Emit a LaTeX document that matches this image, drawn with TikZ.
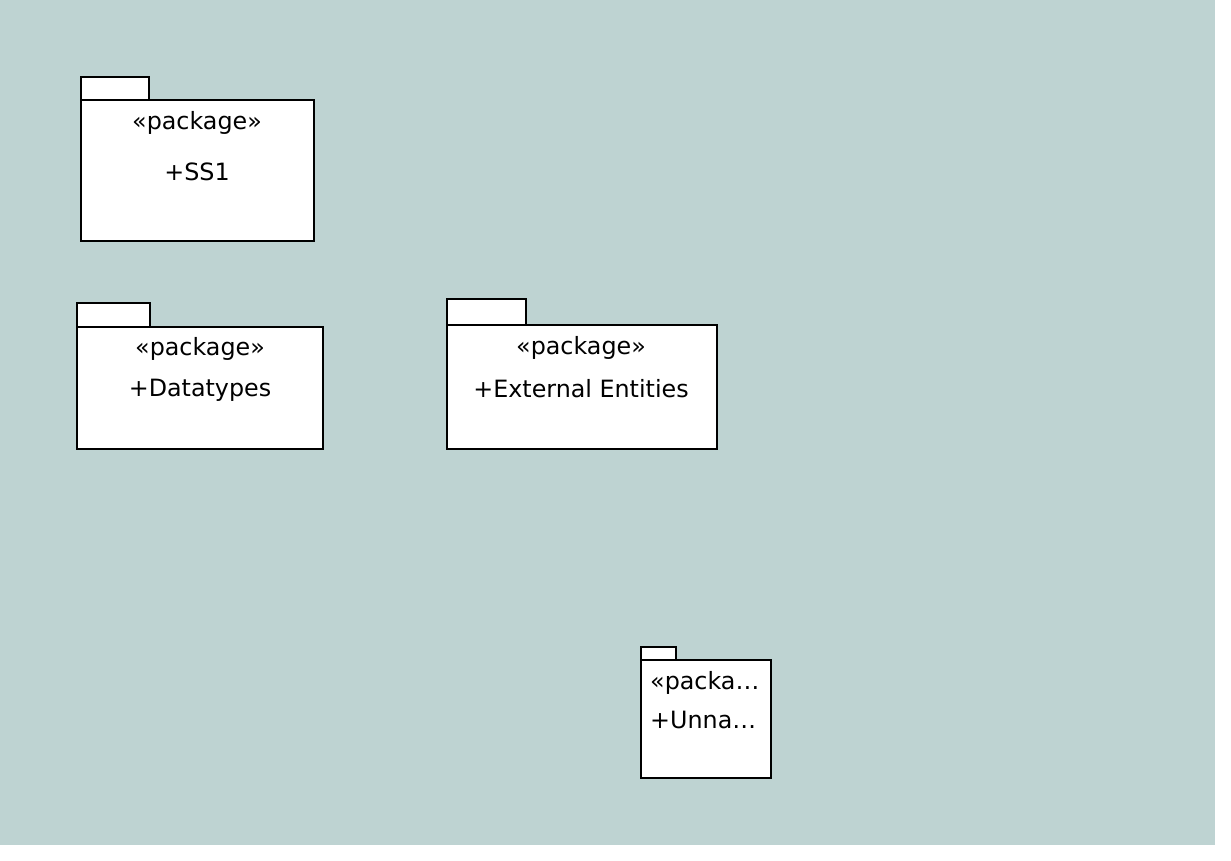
\documentclass[tikz,border=0pt]{standalone}
\usepackage{fontspec}
\setmainfont{DejaVu Sans}
\usetikzlibrary{positioning}
\definecolor{canvas}{RGB}{190,211,210}

\begin{document}
\begin{tikzpicture}[
        x=1pt, y=-1pt,
        pkgbody/.style={rectangle, draw, fill=white, line width=1.2pt, inner sep=0pt, outer sep=0pt, anchor=north west},
        pkgtab/.style={rectangle, draw, fill=white, line width=1.2pt, inner sep=0pt, outer sep=0pt, anchor=south west},
        pkgtext/.style={font=\fontsize{23.8}{28}\selectfont, inner sep=0pt}
    ]
        \useasboundingbox (0,0) rectangle (1231,861);
        \fill [canvas] (0,0) rectangle (1215,845);

        % SS1
        \node [pkgbody, minimum width=233pt, minimum height=141pt] (ss1) at (81,100) {};
        \node [pkgtab, minimum width=68pt, minimum height=23pt] (ss1tab) at (ss1.north west) {};
        \node [pkgtext] (ss1st) at (197,123) {«package»};
        \node [pkgtext] (ss1nm) at (197,172) {+SS1};

        % Datatypes
        \node [pkgbody, minimum width=246pt, minimum height=122pt] (dtypes) at (77,327) {};
        \node [pkgtab, minimum width=73pt, minimum height=24pt] (dtypestab) at (dtypes.north west) {};
        \node [pkgtext] (dtypesst) at (200,349) {«package»};
        \node [pkgtext] (dtypesnm) at (200,390) {+Datatypes};

        % External Entities
        \node [pkgbody, minimum width=270pt, minimum height=124pt] (ext) at (447,325) {};
        \node [pkgtab, minimum width=79pt, minimum height=26pt] (exttab) at (ext.north west) {};
        \node [pkgtext] (extst) at (581,348) {«package»};
        \node [pkgtext] (extnm) at (581,389) {+External Entities};

        % Unnamed
        \node [pkgbody, minimum width=130pt, minimum height=118pt] (unn) at (641,660) {};
        \node [pkgtab, minimum width=35pt, minimum height=13pt] (unntab) at (unn.north west) {};
        \node [pkgtext, anchor=west] (unnst) at (650,683) {«packa…};
        \node [pkgtext, anchor=west] (unnnm) at (650,720) {+Unna…};

    \end{tikzpicture}
\end{document}
